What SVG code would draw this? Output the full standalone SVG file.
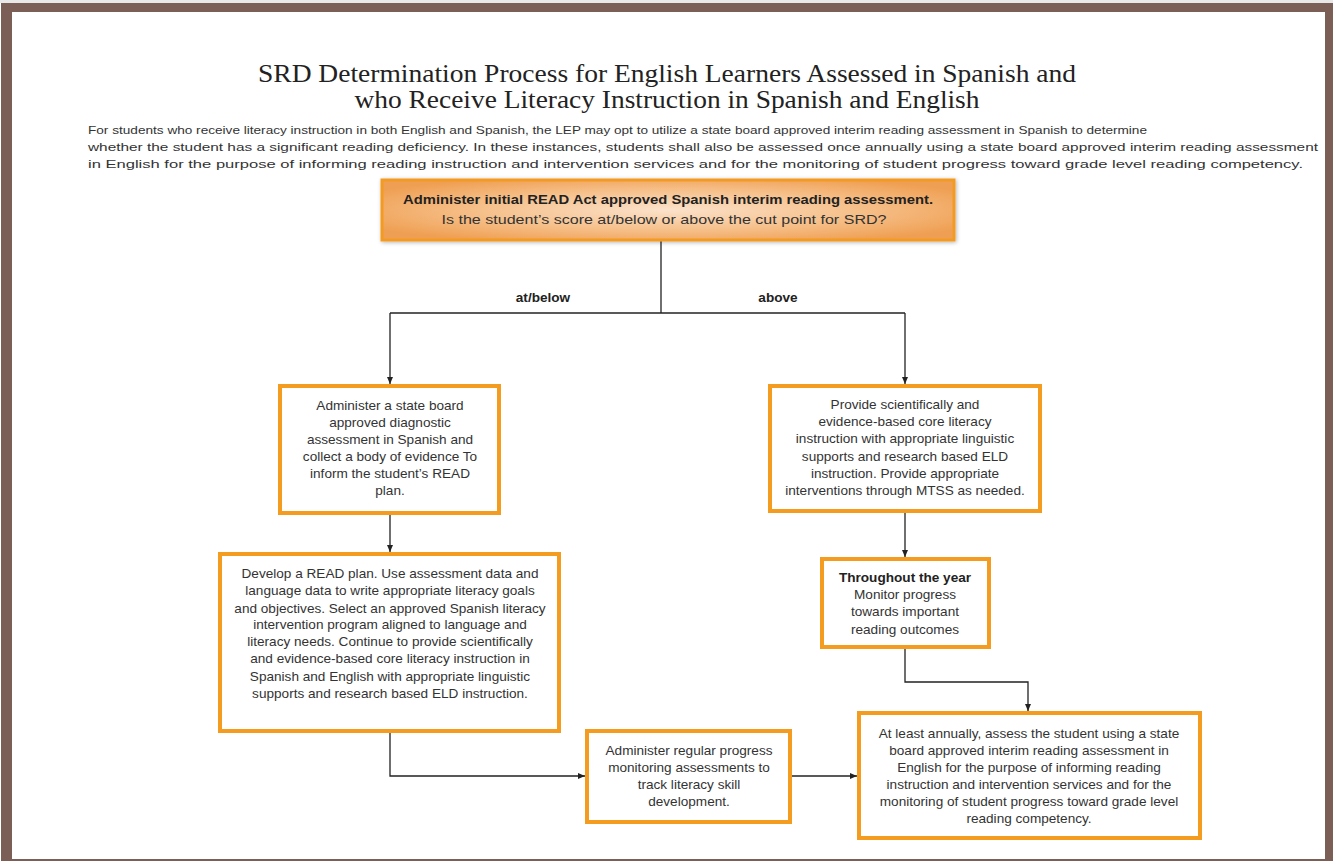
<svg xmlns="http://www.w3.org/2000/svg" width="1333" height="861" viewBox="0 0 1333 861">
<style>
.t{font-family:"Liberation Sans",Arial,sans-serif;font-size:13.6px;fill:#333;text-anchor:middle}
.b{font-weight:bold;fill:#222}
.box{fill:#fff;stroke:#f39c1f;stroke-width:4}
.c{fill:none;stroke:#222;stroke-width:1.3}
.title{font-family:"Liberation Serif","DejaVu Serif",serif;font-size:25px;fill:#222;text-anchor:middle}
.p{font-family:"Liberation Sans",Arial,sans-serif;font-size:11.5px;fill:#333}
</style>
<defs>
<marker id="ah" markerUnits="userSpaceOnUse" markerWidth="8" markerHeight="8" refX="7" refY="3.5" orient="auto">
<path d="M0,0.5 L7,3.5 L0,6.5 Z" fill="#222"/>
</marker>
<radialGradient id="og" cx="0.5" cy="0.5" r="0.6">
<stop offset="0" stop-color="#fbe2cb"/>
<stop offset="0.55" stop-color="#f6c08a"/>
<stop offset="1" stop-color="#ef9f52"/>
</radialGradient>
<filter id="sh" x="-5%" y="-20%" width="110%" height="140%">
<feGaussianBlur in="SourceAlpha" stdDeviation="2"/>
<feOffset dx="1" dy="1"/>
<feComponentTransfer><feFuncA type="linear" slope="0.3"/></feComponentTransfer>
<feMerge><feMergeNode/><feMergeNode in="SourceGraphic"/></feMerge>
</filter>
</defs>
<rect x="0" y="0" width="1333" height="861" fill="#fff"/>
<rect x="0" y="0" width="1333" height="3" fill="#e8e8e8"/>
<path d="M1,3 H1333 V861 H1 Z M12,12 V859 H1325 V12 Z" fill="#7b5f56" fill-rule="evenodd"/>

<g id="title">
<text class="title" x="667" y="82" textLength="818" lengthAdjust="spacingAndGlyphs">SRD Determination Process for English Learners Assessed in Spanish and</text>
<text class="title" x="667" y="108" textLength="625" lengthAdjust="spacingAndGlyphs">who Receive Literacy Instruction in Spanish and English</text>
</g>
<g id="intro">
<text class="p" x="88" y="134" textLength="1059" lengthAdjust="spacingAndGlyphs">For students who receive literacy instruction in both English and Spanish, the LEP may opt to utilize a state board approved interim reading assessment in Spanish to determine</text>
<text class="p" x="88" y="151" textLength="1230" lengthAdjust="spacingAndGlyphs">whether the student has a significant reading deficiency. In these instances, students shall also be assessed once annually using a state board approved interim reading assessment</text>
<text class="p" x="88" y="168" textLength="1215" lengthAdjust="spacingAndGlyphs">in English for the purpose of informing reading instruction and intervention services and for the monitoring of student progress toward grade level reading competency.</text>
</g>

<g id="connectors">
<path class="c" d="M661,241 V313"/>
<path class="c" d="M390,313 H905"/>
<path class="c" d="M390,313 V384" marker-end="url(#ah)"/>
<path class="c" d="M905,313 V384" marker-end="url(#ah)"/>
<path class="c" d="M390,515 V552" marker-end="url(#ah)"/>
<path class="c" d="M905,513 V557" marker-end="url(#ah)"/>
<path class="c" d="M905,649 V682 H1028 V711" marker-end="url(#ah)"/>
<path class="c" d="M390,733 V776 H585" marker-end="url(#ah)"/>
<path class="c" d="M792,776 H857" marker-end="url(#ah)"/>
<text class="t b" x="543" y="302" font-size="13.5">at/below</text>
<text class="t b" x="778" y="302" font-size="13.5">above</text>
</g>

<g id="start">
<rect x="382" y="180" width="572" height="60" fill="url(#og)" stroke="#f39a22" stroke-width="3" filter="url(#sh)"/>
<text class="t b" x="668" y="204" font-size="15" textLength="530" lengthAdjust="spacingAndGlyphs">Administer initial READ Act approved Spanish interim reading assessment.</text>
<text class="t" x="664" y="224" font-size="14" textLength="445" lengthAdjust="spacingAndGlyphs">Is the student’s score at/below or above the cut point for SRD?</text>
</g>

<g id="diagnostic">
<rect class="box" x="280" y="386" width="219" height="127"/>
<text class="t" x="390" y="410">Administer a state board</text>
<text class="t" x="390" y="427">approved diagnostic</text>
<text class="t" x="390" y="444">assessment in Spanish and</text>
<text class="t" x="390" y="461">collect a body of evidence To</text>
<text class="t" x="390" y="478">inform the student’s READ</text>
<text class="t" x="390" y="495">plan.</text>
</g>

<g id="core">
<rect class="box" x="770" y="386" width="270" height="125"/>
<text class="t" x="905" y="409">Provide scientifically and</text>
<text class="t" x="905" y="426">evidence-based core literacy</text>
<text class="t" x="905" y="443">instruction with appropriate linguistic</text>
<text class="t" x="905" y="461">supports and research based ELD</text>
<text class="t" x="905" y="478">instruction. Provide appropriate</text>
<text class="t" x="905" y="495">interventions through MTSS as needed.</text>
</g>

<g id="readplan">
<rect class="box" x="220" y="554" width="339" height="177"/>
<text class="t" x="390" y="578">Develop a READ plan. Use assessment data and</text>
<text class="t" x="390" y="595">language data to write appropriate literacy goals</text>
<text class="t" x="390" y="613">and objectives. Select an approved Spanish literacy</text>
<text class="t" x="390" y="629">intervention program aligned to language and</text>
<text class="t" x="390" y="646">literacy needs. Continue to provide scientifically</text>
<text class="t" x="390" y="663">and evidence-based core literacy instruction in</text>
<text class="t" x="390" y="681">Spanish and English with appropriate linguistic</text>
<text class="t" x="390" y="698">supports and research based ELD instruction.</text>
</g>

<g id="monitor">
<rect class="box" x="822" y="559" width="167" height="88"/>
<text class="t b" x="905" y="582">Throughout the year</text>
<text class="t" x="905" y="599">Monitor progress</text>
<text class="t" x="905" y="616">towards important</text>
<text class="t" x="905" y="634">reading outcomes</text>
</g>

<g id="progress">
<rect class="box" x="587" y="731" width="203" height="91"/>
<text class="t" x="689" y="755">Administer regular progress</text>
<text class="t" x="689" y="772">monitoring assessments to</text>
<text class="t" x="689" y="789">track literacy skill</text>
<text class="t" x="689" y="806">development.</text>
</g>

<g id="annual">
<rect class="box" x="859" y="713" width="341" height="125"/>
<text class="t" x="1029" y="738">At least annually, assess the student using a state</text>
<text class="t" x="1029" y="755">board approved interim reading assessment in</text>
<text class="t" x="1029" y="772">English for the purpose of informing reading</text>
<text class="t" x="1029" y="789">instruction and intervention services and for the</text>
<text class="t" x="1029" y="806">monitoring of student progress toward grade level</text>
<text class="t" x="1029" y="823">reading competency.</text>
</g>
</svg>
